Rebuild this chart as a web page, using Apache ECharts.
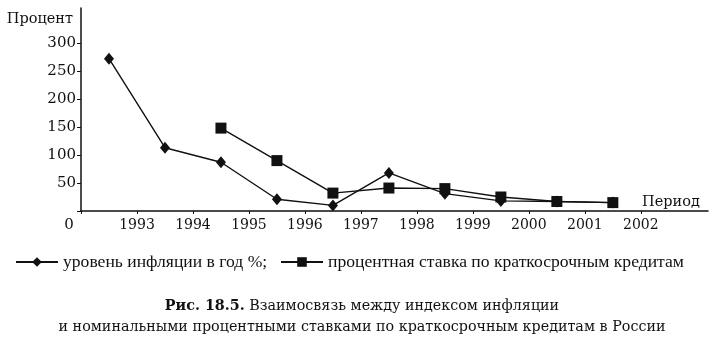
<!DOCTYPE html>
<html>
<head>
<meta charset="utf-8">
<script src="https://cdn.jsdelivr.net/npm/echarts@6/dist/echarts.min.js"></script>
<style>
html,body{margin:0;padding:0;background:#fff;}
#c{width:724px;height:356px;}
</style>
</head>
<body>
<div id="c"></div>
<script>
// Data
var periods = [1992.5, 1993.5, 1994.5, 1995.5, 1996.5, 1997.5, 1998.5, 1999.5, 2000.5, 2001.5];
var inflation = [272, 113, 87, 21, 10, 68, 31, 18, 17, 15];
var loanRate = [null, null, 148, 90, 32, 41, 40, 25, 17, 15];
var yearTicks = [1992, 1993, 1994, 1995, 1996, 1997, 1998, 1999, 2000, 2001, 2002];
var yTicks = [0, 50, 100, 150, 200, 250, 300];
var yLabels = [50, 100, 150, 200, 250, 300];
var nameInfl = 'уровень инфляции в год %';
var nameRate = 'процентная ставка по краткосрочным кредитам';
var captionBold = 'Рис. 18.5.';
var captionLine1 = 'Взаимосвязь между индексом инфляции';
var captionLine2 = 'и номинальными процентными ставками по краткосрочным кредитам в России';

function pairs(xs, ys) {
  return xs.map(function (x, i) { return [x, ys[i]]; });
}

var ink = '#111';
var serif = '"DejaVu Serif", serif';
var capSize = 14.3;
var chart = echarts.init(document.getElementById('c'), null, {renderer: 'canvas'});
chart.setOption({
  backgroundColor: '#fff',
  animation: false,
  grid: {left: 81, right: 16, top: 8, bottom: 145, containLabel: false},
  xAxis: {
    type: 'value', min: 1992, max: 2003.2,
    name: 'Период', nameLocation: 'end', nameGap: -66,
    nameTextStyle: {color: ink, fontFamily: serif, fontSize: 14.5, align: 'left', verticalAlign: 'bottom', padding: [0, 0, 1, 0]},
    axisLine: {show: true, lineStyle: {color: ink, width: 1.5}},
    axisTick: {show: true, length: 3, customValues: yearTicks, lineStyle: {color: ink, width: 1}},
    axisLabel: {
      customValues: yearTicks, margin: 7, color: ink, fontFamily: serif, fontSize: 14,
      formatter: function (v) { return v === 1992 ? '{z|0}' : String(v); },
      rich: {z: {fontFamily: serif, fontSize: 15, color: ink, padding: [0, 24, 0, 0]}}
    },
    splitLine: {show: false}
  },
  yAxis: {
    type: 'value', min: 0, max: 362.5,
    name: 'Процент', nameLocation: 'end', nameGap: -11,
    nameTextStyle: {color: ink, fontFamily: serif, fontSize: 14.5, align: 'right', verticalAlign: 'middle', padding: [0, 8, 0, 0]},
    axisLine: {show: true, lineStyle: {color: ink, width: 1.5}},
    axisTick: {show: true, length: 4, customValues: yTicks, lineStyle: {color: ink, width: 1}},
    axisLabel: {customValues: yLabels, margin: 5, color: ink, fontFamily: serif, fontSize: 15},
    splitLine: {show: false}
  },
  legend: [
    {
      data: [nameInfl], left: 15, top: 253, itemWidth: 42, itemHeight: 12, padding: 0,
      formatter: function (n) { return n + ';'; },
      textStyle: {color: ink, fontFamily: '"Liberation Serif", serif', fontSize: 17.6}
    },
    {
      data: [nameRate], left: 280, top: 253, itemWidth: 42, itemHeight: 12, padding: 0,
      textStyle: {color: ink, fontFamily: '"Liberation Serif", serif', fontSize: 17.6}
    }
  ],
  series: [
    {
      name: nameInfl, type: 'line', data: pairs(periods, inflation),
      symbol: 'diamond', symbolSize: [10, 12], showAllSymbol: true,
      lineStyle: {color: ink, width: 1.4}, itemStyle: {color: ink}, z: 2
    },
    {
      name: nameRate, type: 'line', data: pairs(periods, loanRate),
      symbol: 'rect', symbolSize: [11, 11], showAllSymbol: true, connectNulls: false,
      lineStyle: {color: ink, width: 1.4}, itemStyle: {color: ink}, z: 3
    }
  ],
  graphic: [
    {
      type: 'text', left: 'center', top: 299,
      style: {
        text: '{b|' + captionBold + '} ' + captionLine1,
        fill: ink, font: capSize + 'px ' + serif,
        rich: {b: {fontWeight: 'bold', fontFamily: serif, fontSize: capSize, fill: ink}}
      }
    },
    {
      type: 'text', left: 'center', top: 320,
      style: {text: captionLine2, fill: ink, font: capSize + 'px ' + serif}
    }
  ]
});
</script>
</body>
</html>
